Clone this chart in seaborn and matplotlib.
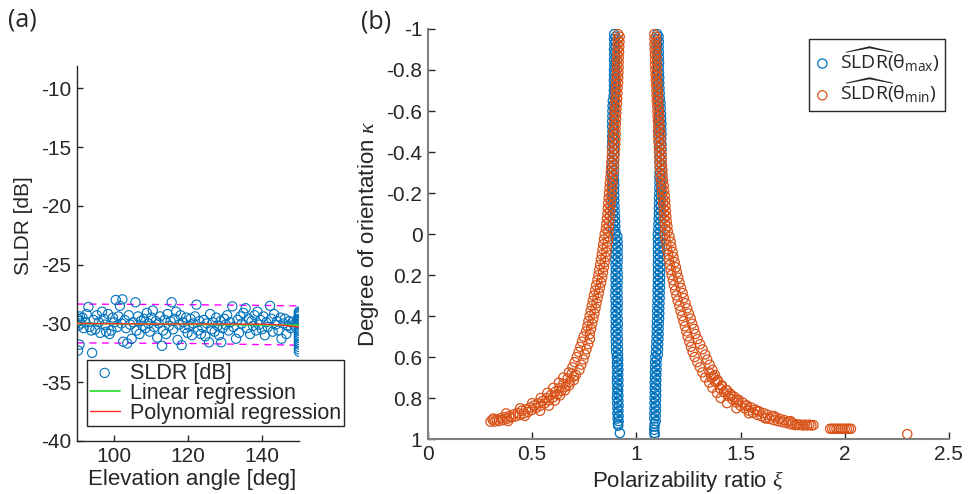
import matplotlib
matplotlib.use('Agg')
import matplotlib.pyplot as plt
import seaborn as sns
import pandas as pd

# ---------------- panel (a): SLDR vs elevation angle ----------------
elev_deg = [90.2, 90.4, 90.6, 90.8, 91.0, 90.3, 90.7, 91.5, 91.8, 92.3, 92.6, 93.1, 93.4, 93.9, 94.1,
            94.5, 95.0, 95.4, 95.9, 96.3, 96.8, 97.2, 97.6, 97.9, 98.4, 98.8, 99.3, 99.7, 100.1, 100.5,
            100.9, 101.2, 101.6, 102.0, 102.3, 102.5, 102.9, 103.3, 103.6, 104.0, 104.4, 104.8, 105.2,
            105.8, 106.1, 106.5, 106.9, 107.3, 107.7, 108.1, 108.5, 108.9, 109.3, 109.7, 110.1, 110.5,
            110.9, 111.3, 111.7, 112.1, 112.5, 113.0, 113.3, 113.7, 114.1, 114.5, 114.9, 115.3, 115.6,
            116.0, 116.4, 116.8, 117.2, 117.6, 118.0, 118.3, 118.7, 119.1, 119.5, 119.9, 120.3, 120.7,
            121.1, 121.5, 121.9, 122.3, 122.7, 123.1, 123.5, 123.9, 124.3, 124.7, 125.1, 125.7, 126.0,
            126.4, 126.8, 127.2, 127.6, 128.0, 128.4, 128.8, 129.0, 129.4, 129.8, 130.2, 130.6, 131.0,
            131.4, 132.0, 132.3, 133.0, 133.4, 133.8, 134.2, 134.6, 135.0, 135.6, 136.0, 136.4, 136.8,
            137.2, 137.6, 138.0, 138.4, 138.8, 139.2, 139.6, 140.0, 140.4, 140.8, 141.2, 141.6, 142.2,
            142.5, 142.9, 143.3, 143.7, 144.1, 144.5, 145.0, 145.3, 145.8, 146.2, 146.6, 147.0, 147.4,
            147.8, 148.2, 148.6, 149.0, 149.4,
            150.0, 150.0, 150.0, 150.0, 150.0, 150.0, 150.0, 150.0, 150.0, 150.0, 150.0, 150.0, 150.0,
            150.0, 150.0, 150.0, 150.0, 150.0, 150.0, 150.0]
sldr_db = [-29.6, -30.2, -29.8, -29.4, -30.0, -32.3, -31.8, -29.5, -30.4, -29.9, -29.2, -28.6, -30.3, -30.6, -32.5,
           -29.7, -30.5, -29.3, -29.9, -30.8, -29.0, -29.6, -30.1, -30.7, -29.2, -30.9, -30.6, -29.5, -29.9, -28.0,
           -30.3, -29.4, -28.5, -30.0, -27.95, -31.55, -29.7, -30.4, -31.7, -29.3, -30.1, -31.3, -29.9,
           -28.2, -30.6, -29.4, -30.9, -29.8, -30.2, -29.6, -30.4, -29.1, -30.0, -30.7, -29.5, -28.9,
           -30.3, -29.8, -31.2, -30.0, -29.4, -31.9, -30.6, -29.7, -30.9, -29.2, -30.2, -29.8, -28.2,
           -30.5, -29.6, -29.0, -31.4, -30.1, -29.3, -31.85, -29.9, -30.4, -29.5, -30.8, -30.2, -29.6,
           -31.0, -30.0, -29.4, -28.4, -30.6, -29.8, -30.9, -30.3, -29.7, -31.1, -30.0, -31.6, -29.2,
           -30.5, -29.9, -30.7, -29.5, -30.2, -31.0, -29.8, -31.6, -30.4, -29.6, -30.1, -29.3, -30.6,
           -29.9, -28.55, -30.3, -31.3, -29.7, -30.8, -29.4, -30.0, -29.1, -28.7, -30.4, -29.6, -30.9,
           -29.8, -30.2, -29.3, -30.6, -29.0, -30.1, -29.7, -30.5, -29.4, -31.0, -29.9, -30.3, -28.5,
           -29.6, -30.7, -29.2, -30.1, -29.8, -30.6, -29.5, -31.3, -30.0, -29.6, -30.9, -30.2, -29.8,
           -30.4, -29.9, -30.1, -30.3, -29.7,
           -29.0, -29.1, -29.2, -29.3, -29.4, -29.6, -29.8, -30.0, -30.2, -30.4, -30.6, -30.8, -31.0,
           -31.2, -31.4, -31.6, -31.8, -32.0, -32.2, -32.4]

lin_x = [90, 150]
lin_fit = [-30.0, -30.15]
poly_x = [90, 100, 110, 120, 130, 140, 145, 150]
poly_fit = [-30.0, -30.02, -30.05, -30.05, -30.05, -30.06, -30.12, -30.3]
band_x = [90, 120, 150]
band_upper = [-28.35, -28.4, -28.5]
band_lower = [-31.65, -31.7, -31.85]

# ---------------- panel (b): kappa vs polarizability ratio ----------------
kappa = [-0.975, -0.95, -0.925, -0.9, -0.875, -0.85, -0.825, -0.8, -0.775, -0.75, -0.725, -0.7, -0.675,
         -0.65, -0.625, -0.6, -0.575, -0.55, -0.525, -0.5, -0.475, -0.45, -0.425, -0.4, -0.375, -0.35,
         -0.325, -0.3, -0.275, -0.25, -0.225, -0.2, -0.175, -0.15, -0.125, -0.1, -0.075, -0.05, -0.025,
         0.0, 0.025, 0.05, 0.075, 0.1, 0.125, 0.15, 0.175, 0.2, 0.225, 0.25, 0.275, 0.3, 0.325, 0.35,
         0.375, 0.4, 0.425, 0.45, 0.475, 0.5, 0.525, 0.55, 0.575, 0.6, 0.625, 0.65, 0.675, 0.7, 0.725,
         0.75, 0.775, 0.8, 0.825, 0.85, 0.875, 0.9]
# second set of kappa levels, half a step below the first
kappa_mid = [-0.9625, -0.9375, -0.9125, -0.8875, -0.8625, -0.8375, -0.8125, -0.7875, -0.7625, -0.7375,
             -0.7125, -0.6875, -0.6625, -0.6375, -0.6125, -0.5875, -0.5625, -0.5375, -0.5125, -0.4875,
             -0.4625, -0.4375, -0.4125, -0.3875, -0.3625, -0.3375, -0.3125, -0.2875, -0.2625, -0.2375,
             -0.2125, -0.1875, -0.1625, -0.1375, -0.1125, -0.0875, -0.0625, -0.0375, -0.0125, 0.0125,
             0.0375, 0.0625, 0.0875, 0.1125, 0.1375, 0.1625, 0.1875, 0.2125, 0.2375, 0.2625, 0.2875,
             0.3125, 0.3375, 0.3625, 0.3875, 0.4125, 0.4375, 0.4625, 0.4875, 0.5125, 0.5375, 0.5625,
             0.5875, 0.6125, 0.6375, 0.6625, 0.6875, 0.7125, 0.7375, 0.7625, 0.7875, 0.8125, 0.8375,
             0.8625, 0.8875, 0.9125]

# theta_max estimates (blue)
xi_max_left_a = [0.894, 0.893, 0.894, 0.893, 0.894, 0.893, 0.894, 0.893, 0.893, 0.892, 0.893, 0.892, 0.891,
                 0.887, 0.886, 0.885, 0.885, 0.884, 0.884, 0.885, 0.884, 0.884, 0.883, 0.884, 0.884, 0.885,
                 0.884, 0.883, 0.884, 0.885, 0.884, 0.884, 0.885, 0.885, 0.886, 0.887, 0.888, 0.889, 0.890,
                 0.899, 0.900, 0.900, 0.901, 0.900, 0.899, 0.900, 0.901, 0.900, 0.900, 0.901, 0.900, 0.899,
                 0.900, 0.901, 0.900, 0.900, 0.901, 0.901, 0.900, 0.901, 0.902, 0.902, 0.903,
                 0.906, 0.907, 0.907, 0.908, 0.907, 0.907, 0.908, 0.908, 0.907, 0.908, 0.909, 0.909, 0.910]
xi_max_left_b = [0.900, 0.899, 0.900, 0.899, 0.900, 0.899, 0.899, 0.898, 0.899, 0.898, 0.898, 0.897, 0.897,
                 0.895, 0.894, 0.894, 0.893, 0.893, 0.892, 0.893, 0.893, 0.892, 0.892, 0.893, 0.892, 0.893,
                 0.893, 0.892, 0.893, 0.894, 0.893, 0.894, 0.894, 0.895, 0.896, 0.897, 0.898, 0.899, 0.900,
                 0.909, 0.910, 0.911, 0.910, 0.911, 0.910, 0.909, 0.910, 0.911, 0.910, 0.909, 0.910, 0.910,
                 0.911, 0.910, 0.909, 0.910, 0.911, 0.910, 0.910, 0.911, 0.911, 0.912, 0.912,
                 0.913, 0.913, 0.914, 0.913, 0.914, 0.914, 0.913, 0.914, 0.914, 0.915, 0.914, 0.915, 0.915]
xi_max_right_a = [1.100, 1.101, 1.100, 1.101, 1.101, 1.102, 1.101, 1.102, 1.102, 1.103, 1.103, 1.104, 1.104,
                  1.107, 1.108, 1.109, 1.110, 1.110, 1.111, 1.110, 1.111, 1.111, 1.112, 1.111, 1.112, 1.111,
                  1.112, 1.111, 1.110, 1.111, 1.110, 1.110, 1.109, 1.109, 1.108, 1.108, 1.107, 1.106, 1.105,
                  1.103, 1.103, 1.104, 1.103, 1.104, 1.104, 1.103, 1.104, 1.104, 1.103, 1.103, 1.102, 1.102,
                  1.101, 1.101, 1.100, 1.100, 1.099, 1.098, 1.098, 1.097, 1.096, 1.095, 1.094,
                  1.091, 1.090, 1.090, 1.089, 1.089, 1.088, 1.088, 1.088, 1.087, 1.087, 1.087, 1.086, 1.086]
xi_max_right_b = [1.107, 1.108, 1.107, 1.108, 1.108, 1.109, 1.108, 1.109, 1.110, 1.110, 1.111, 1.112, 1.113,
                  1.116, 1.117, 1.118, 1.119, 1.120, 1.120, 1.121, 1.120, 1.121, 1.121, 1.120, 1.121, 1.120,
                  1.121, 1.120, 1.120, 1.119, 1.119, 1.118, 1.118, 1.117, 1.117, 1.116, 1.116, 1.115, 1.115,
                  1.113, 1.114, 1.114, 1.115, 1.114, 1.114, 1.115, 1.114, 1.114, 1.113, 1.113, 1.112, 1.112,
                  1.111, 1.110, 1.110, 1.109, 1.108, 1.107, 1.107, 1.106, 1.105, 1.104, 1.103,
                  1.098, 1.097, 1.097, 1.096, 1.096, 1.095, 1.095, 1.095, 1.094, 1.094, 1.094, 1.093, 1.093]
xi_max_extra = [0.912, 0.913, 0.921, 1.088, 1.087, 1.086, 1.087, 1.088]
kappa_max_extra = [0.925, 0.935, 0.971, 0.925, 0.94, 0.955, 0.97, 0.98]

# theta_min estimates (orange)
xi_min_left_a = [0.912, 0.911, 0.910, 0.909, 0.908, 0.907, 0.907, 0.906, 0.905, 0.904, 0.902, 0.901, 0.900,
                 0.899, 0.897, 0.896, 0.895, 0.894, 0.892, 0.889, 0.888, 0.887, 0.885, 0.884, 0.882, 0.880,
                 0.879, 0.877, 0.875, 0.873, 0.871, 0.869, 0.867, 0.865, 0.863, 0.861, 0.859, 0.856, 0.854,
                 0.848, 0.845, 0.841, 0.838, 0.834, 0.830, 0.826, 0.822, 0.818, 0.813, 0.807, 0.802, 0.796,
                 0.791, 0.786, 0.781, 0.776, 0.770, 0.765, 0.759, 0.747, 0.739, 0.731, 0.723, 0.714, 0.704,
                 0.693, 0.676, 0.650, 0.628, 0.602, 0.573, 0.541, 0.500, 0.442, 0.375, 0.315]
xi_min_left_b = [0.920, 0.919, 0.918, 0.917, 0.916, 0.915, 0.915, 0.914, 0.913, 0.912, 0.910, 0.909, 0.908,
                 0.907, 0.905, 0.904, 0.903, 0.902, 0.900, 0.901, 0.900, 0.899, 0.897, 0.896, 0.894, 0.892,
                 0.891, 0.889, 0.887, 0.885, 0.883, 0.881, 0.879, 0.877, 0.875, 0.873, 0.871, 0.868, 0.866,
                 0.866, 0.863, 0.859, 0.856, 0.852, 0.848, 0.844, 0.840, 0.836, 0.831, 0.825, 0.820, 0.814,
                 0.809, 0.804, 0.799, 0.794, 0.788, 0.783, 0.777, 0.777, 0.769, 0.761, 0.753, 0.746, 0.736,
                 0.727, 0.710, 0.700, 0.678, 0.658, 0.633, 0.609, 0.580, 0.538, 0.465, 0.385]
xi_min_right_a = [1.086, 1.087, 1.087, 1.088, 1.089, 1.090, 1.090, 1.091, 1.092, 1.093, 1.095, 1.096, 1.097,
                  1.098, 1.100, 1.101, 1.102, 1.103, 1.105, 1.104, 1.105, 1.106, 1.108, 1.109, 1.110, 1.111,
                  1.113, 1.114, 1.116, 1.119, 1.121, 1.124, 1.126, 1.128, 1.130, 1.132, 1.134, 1.137, 1.139,
                  1.137, 1.140, 1.144, 1.148, 1.152, 1.156, 1.160, 1.165, 1.169, 1.175, 1.180, 1.186, 1.192,
                  1.198, 1.206, 1.212, 1.219, 1.226, 1.233, 1.240, 1.246, 1.254, 1.262, 1.270, 1.280, 1.292,
                  1.305, 1.317, 1.330, 1.350, 1.365, 1.387, 1.405, 1.435, 1.480, 1.540, 1.620]
xi_min_right_b = [1.094, 1.095, 1.095, 1.096, 1.097, 1.098, 1.098, 1.099, 1.100, 1.101, 1.103, 1.104, 1.105,
                  1.106, 1.108, 1.109, 1.110, 1.111, 1.113, 1.116, 1.117, 1.118, 1.120, 1.121, 1.122, 1.123,
                  1.125, 1.126, 1.128, 1.131, 1.133, 1.136, 1.138, 1.140, 1.142, 1.144, 1.146, 1.149, 1.151,
                  1.159, 1.164, 1.168, 1.174, 1.178, 1.184, 1.190, 1.195, 1.201, 1.207, 1.214, 1.222, 1.228,
                  1.236, 1.244, 1.252, 1.261, 1.268, 1.277, 1.284, 1.294, 1.306, 1.318, 1.330, 1.340, 1.352,
                  1.365, 1.377, 1.390, 1.410, 1.435, 1.457, 1.485, 1.525, 1.580, 1.660, 1.740]
# flatter low-kappa tails of the theta_min curve
xi_min_tail = [0.30, 0.31, 0.32, 0.33, 0.34, 0.35, 0.36, 0.37, 0.38, 0.39, 0.40, 0.41, 0.42, 0.43,
               0.44, 0.45, 0.46, 0.47, 0.48, 0.49, 0.50, 0.51, 0.52, 0.53, 0.54, 0.55, 0.56, 0.57,
               0.58, 0.59, 0.60, 0.61, 0.62, 0.63, 0.64, 0.65, 0.66, 0.67, 0.68, 0.69, 0.70,
               1.35, 1.36, 1.37, 1.38, 1.39, 1.40, 1.41, 1.42, 1.43, 1.44, 1.45, 1.46, 1.47, 1.48,
               1.49, 1.50, 1.51, 1.52, 1.53, 1.54, 1.55, 1.56, 1.57, 1.58, 1.59, 1.60, 1.61, 1.62,
               1.63, 1.64, 1.65, 1.66, 1.67, 1.68, 1.69, 1.70, 1.71, 1.72, 1.73, 1.74, 1.75, 1.76,
               1.77, 1.78, 1.79, 1.80, 1.81, 1.82, 1.83, 1.84, 1.85,
               1.93, 1.94, 1.95, 1.96, 1.97, 1.98, 1.99, 2.00, 2.01, 2.02, 2.03,
               2.30]
kappa_min_tail = [0.915, 0.905, 0.915, 0.905, 0.912, 0.898, 0.908, 0.893, 0.902, 0.888, 0.895, 0.880,
                  0.890, 0.873, 0.883, 0.862, 0.876, 0.855, 0.868, 0.846, 0.858, 0.836, 0.848, 0.826,
                  0.838, 0.814, 0.826, 0.800, 0.812, 0.785, 0.797, 0.770, 0.782, 0.752, 0.765, 0.730,
                  0.745, 0.705, 0.722, 0.680, 0.695,
                  0.675, 0.700, 0.695, 0.722, 0.720, 0.752, 0.742, 0.772, 0.760, 0.790, 0.778, 0.806,
                  0.794, 0.822, 0.808, 0.838, 0.822, 0.850, 0.836, 0.862, 0.846, 0.872, 0.856, 0.882,
                  0.866, 0.889, 0.874, 0.896, 0.882, 0.902, 0.888, 0.908, 0.895, 0.913, 0.902, 0.918,
                  0.908, 0.922, 0.915, 0.928, 0.922, 0.932, 0.928, 0.932, 0.930, 0.934, 0.930, 0.934,
                  0.930, 0.934, 0.932,
                  0.95, 0.95, 0.95, 0.95, 0.95, 0.95, 0.95, 0.95, 0.95, 0.95, 0.95,
                  0.976]

kappa_ticks = [-1, -0.8, -0.6, -0.4, -0.2, 0, 0.2, 0.4, 0.6, 0.8, 1]
kappa_tick_labels = ['-1', '-0.8', '-0.6', '-0.4', '-0.2', '0', '0.2', '0.4', '0.6', '0.8', '1']
xi_ticks = [0, 0.5, 1, 1.5, 2, 2.5]
xi_tick_labels = ['0', '0.5', '1', '1.5', '2', '2.5']
elev_ticks = [100, 120, 140]
sldr_ticks = [-40, -35, -30, -25, -20, -15, -10]

blue = '#0072BD'
orange = '#D95319'

df_a = pd.DataFrame({'elev': elev_deg, 'sldr': sldr_db})
df_max = pd.DataFrame({
    'xi': xi_max_left_a + xi_max_left_b + xi_max_right_a + xi_max_right_b + xi_max_extra,
    'kappa': kappa + kappa_mid + kappa + kappa_mid + kappa_max_extra})
df_min = pd.DataFrame({
    'xi': xi_min_left_a + xi_min_left_b + xi_min_right_a + xi_min_right_b + xi_min_tail,
    'kappa': kappa + kappa_mid + kappa + kappa_mid + kappa_min_tail})

sns.set_style('ticks')
plt.rcParams['font.family'] = ['Liberation Sans', 'DejaVu Sans']
plt.rcParams['axes.unicode_minus'] = False
plt.rcParams['mathtext.fontset'] = 'custom'
plt.rcParams['mathtext.rm'] = 'Open Sans'
plt.rcParams['mathtext.it'] = 'Liberation Serif:italic'
plt.rcParams['mathtext.bf'] = 'Open Sans:bold'

fig = plt.figure(figsize=(9.68, 4.94), dpi=100)
ax1 = fig.add_axes([0.0795, 0.1073, 0.2293, 0.759])
ax2 = fig.add_axes([0.4421, 0.1113, 0.5382, 0.830])

# (a)
sns.scatterplot(data=df_a, x='elev', y='sldr', ax=ax1, marker='o', s=44, facecolor='none',
                edgecolor=blue, linewidth=0.8, label='SLDR [dB]', zorder=2)
sns.lineplot(x=lin_x, y=lin_fit, ax=ax1, color='#33e033', lw=1.3, label='Linear regression', zorder=3)
sns.lineplot(x=poly_x, y=poly_fit, ax=ax1, color='#ff2a2a', lw=1.0, label='Polynomial regression', zorder=3)
sns.lineplot(x=band_x, y=band_upper, ax=ax1, color='#ff00ff', lw=1.0, linestyle=(0, (5, 4)), zorder=1)
sns.lineplot(x=band_x, y=band_lower, ax=ax1, color='#ff00ff', lw=1.0, linestyle=(0, (5, 4)), zorder=1)

ax1.set_xlim(90, 150)
ax1.set_ylim(-40, -8.1)
ax1.set_xticks(elev_ticks)
ax1.set_yticks(sldr_ticks)
ax1.set_xlabel('Elevation angle [deg]', fontsize=16, color='#262626')
ax1.set_ylabel('SLDR [dB]', fontsize=15, color='#262626')
ax1.yaxis.set_label_coords(-0.2, 0.575)
ax1.xaxis.set_label_coords(0.52, -0.075)
sns.despine(ax=ax1)
for sp in ['left', 'bottom']:
    ax1.spines[sp].set_color('#262626')
    ax1.spines[sp].set_linewidth(1.0)
ax1.tick_params(direction='in', length=4, width=1, labelsize=15, colors='#262626', pad=4)
leg1 = ax1.legend(loc='upper left', bbox_to_anchor=(87 / 968, 1 - 360 / 494),
                  bbox_transform=fig.transFigure, borderaxespad=0, fontsize=15.5, frameon=True,
                  fancybox=False, framealpha=1, edgecolor='#262626', handlelength=1.4,
                  handletextpad=0.5, labelspacing=-0.04, borderpad=0.12)
leg1.get_frame().set_linewidth(1.0)

# (b)
sns.scatterplot(data=df_max, x='xi', y='kappa', ax=ax2, marker='o', s=44, facecolor='none',
                edgecolor=blue, linewidth=0.9, label=r'$\widehat{\mathrm{SLDR}}(\mathrm{θ}_{\mathrm{max}})$')
sns.scatterplot(data=df_min, x='xi', y='kappa', ax=ax2, marker='o', s=44, facecolor='none',
                edgecolor=orange, linewidth=0.9, label=r'$\widehat{\mathrm{SLDR}}(\mathrm{θ}_{\mathrm{min}})$')
ax2.set_xlim(0, 2.5)
ax2.set_ylim(1, -1)
ax2.set_xticks(xi_ticks)
ax2.set_xticklabels(xi_tick_labels)
ax2.set_yticks(kappa_ticks)
ax2.set_yticklabels(kappa_tick_labels)
ax2.set_xlabel(r'Polarizability ratio $\xi$', fontsize=16, color='#262626')
ax2.set_ylabel(r'Degree of orientation $\kappa$', fontsize=16, color='#262626')
sns.despine(ax=ax2)
for sp in ['left', 'bottom']:
    ax2.spines[sp].set_color('#808080')
    ax2.spines[sp].set_linewidth(1.5)
ax2.tick_params(direction='in', length=5, width=1, labelsize=15, color='#262626',
                labelcolor='#262626', pad=4)
leg2 = ax2.legend(loc='upper right', bbox_to_anchor=(945 / 968, 1 - 39 / 494),
                  bbox_transform=fig.transFigure, borderaxespad=0, fontsize=14, frameon=True,
                  fancybox=False, framealpha=1, edgecolor='#262626', handlelength=0.8,
                  handletextpad=0.5, labelspacing=0.15, borderpad=0.3)
leg2.get_frame().set_linewidth(1.0)

fig.text(22 / 968, 1 - 20 / 494, '(a)', fontsize=18, family='Open Sans', ha='center', va='center')
fig.text(376 / 968, 1 - 22 / 494, '(b)', fontsize=18, family='Open Sans', ha='center', va='center')

fig.savefig('out.png', dpi=100)
